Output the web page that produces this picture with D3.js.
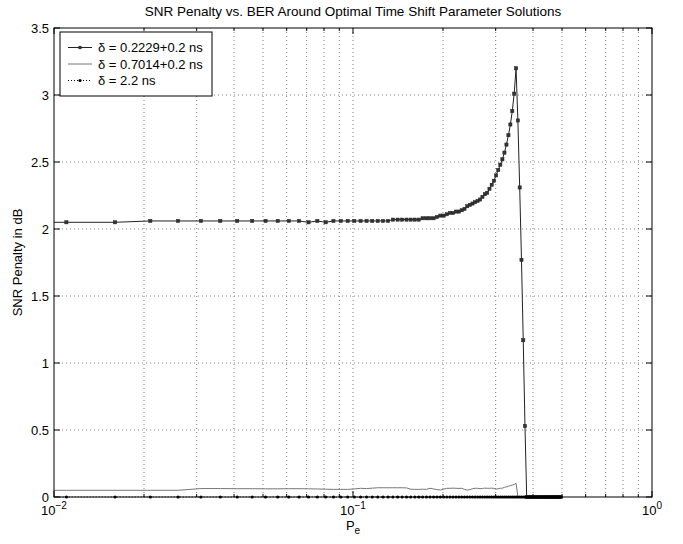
<!DOCTYPE html>
<html><head><meta charset="utf-8">
<script src="https://cdn.jsdelivr.net/npm/d3@7"></script>
<style>body{margin:0;background:#fff}svg{display:block;font-family:"Liberation Sans",Arial,sans-serif}</style>
</head><body><svg id="c" width="683" height="544"></svg>
<script>
const pe = [0.006,0.011,0.016,0.021,0.026,0.031,0.036,0.041,0.046,0.051,0.056,
0.061,0.066,0.071,0.076,0.081,0.086,0.091,0.096,0.101,0.106,
0.111,0.116,0.121,0.126,0.131,0.136,0.141,0.146,0.151,0.156,
0.161,0.166,0.171,0.176,0.181,0.186,0.191,0.196,0.201,0.206,
0.211,0.216,0.221,0.226,0.231,0.236,0.241,0.246,0.251,0.256,
0.261,0.266,0.271,0.276,0.281,0.286,0.291,0.296,0.301,0.306,
0.311,0.316,0.321,0.326,0.331,0.336,0.341,0.346,0.351,0.356,
0.361,0.366,0.371,0.376,0.381,0.386,0.391,0.396,0.401,0.406,
0.411,0.416,0.421,0.426,0.431,0.436,0.441,0.446,0.451,0.456,
0.461,0.466,0.471,0.476,0.481,0.486,0.491,0.496];
const s1 = [2.05,2.05,2.05,2.06,2.06,2.06,2.06,2.06,2.06,2.06,2.06,
2.06,2.06,2.05,2.06,2.05,2.06,2.06,2.06,2.06,2.06,
2.06,2.06,2.06,2.06,2.06,2.07,2.07,2.07,2.07,2.07,
2.07,2.07,2.08,2.08,2.08,2.08,2.09,2.10,2.10,2.11,
2.12,2.12,2.13,2.13,2.14,2.15,2.17,2.18,2.19,2.20,
2.21,2.22,2.24,2.26,2.27,2.30,2.33,2.36,2.40,2.44,
2.48,2.52,2.57,2.63,2.70,2.78,2.88,3.01,3.20,2.81,
2.31,1.77,1.17,0.53,0,0,0,0,0,0,
0,0,0,0,0,0,0,0,0,0,
0,0,0,0,0,0,0,0];
const s2 = [0.05,0.05,0.05,0.05,0.05,0.063,0.063,0.062,0.062,0.061,0.061,
0.062,0.062,0.061,0.06,0.058,0.057,0.057,0.057,0.06,0.065,
0.063,0.066,0.069,0.069,0.069,0.069,0.069,0.069,0.068,0.058,
0.057,0.057,0.058,0.057,0.065,0.06,0.055,0.052,0.058,0.065,
0.065,0.066,0.065,0.064,0.065,0.057,0.052,0.055,0.062,0.065,
0.065,0.062,0.064,0.066,0.065,0.065,0.066,0.064,0.058,0.062,
0.065,0.066,0.072,0.076,0.08,0.085,0.089,0.093,0.102,0,
0,0,0,0,0,0,0,0,0,0,
0,0,0,0,0,0,0,0,0,0,
0,0,0,0,0,0,0,0];
const s3 = [0,0,0,0,0,0,0,0,0,0,0,
0,0,0,0,0,0,0,0,0,0,
0,0,0,0,0,0,0,0,0,0,
0,0,0,0,0,0,0,0,0,0,
0,0,0,0,0,0,0,0,0,0,
0,0,0,0,0,0,0,0,0,0,
0,0,0,0,0,0,0,0,0,0,
0,0,0,0,0,0,0,0,0,0,
0,0,0,0,0,0,0,0,0,0,
0,0,0,0,0,0,0,0];
const seriesNames = ["\u03b4 = 0.2229+0.2 ns","\u03b4 = 0.7014+0.2 ns","\u03b4 = 2.2 ns"];
const yTicks = [0,0.5,1,1.5,2,2.5,3,3.5];
const yTickLabels = ["0","0.5","1","1.5","2","2.5","3","3.5"];
const xMajor = [0.01,0.1,1];
const xMajorExp = ["-2","-1","0"];
const title = "SNR Penalty vs. BER Around Optimal Time Shift Parameter Solutions";

const L=54, R=652, T=28, B=497, FS=13;
const svg = d3.select("#c");
const x = d3.scaleLog().domain([0.01,1]).range([L,R]);
const y = d3.scaleLinear().domain([0,3.5]).range([B,T]);
const xMinor = x.ticks().filter(v => !xMajor.some(m => Math.abs(m-v)<1e-9));

svg.append("defs").append("clipPath").attr("id","pc").append("rect")
  .attr("x",L).attr("y",T-4).attr("width",R-L).attr("height",B-T+8);

// grid
const g = svg.append("g").attr("stroke","#808080").attr("stroke-width",1).attr("stroke-dasharray","1,3");
x.ticks().forEach(v => { if (v>0.0101 && v<0.99) g.append("line").attr("x1",x(v)).attr("x2",x(v)).attr("y1",T).attr("y2",B); });
yTicks.forEach(v => { if (v>0 && v<3.5) g.append("line").attr("x1",L).attr("x2",R).attr("y1",y(v)).attr("y2",y(v)); });

// ticks
const tk = svg.append("g").attr("stroke","#000").attr("stroke-width",1);
xMajor.forEach(v => {
  tk.append("line").attr("x1",x(v)).attr("x2",x(v)).attr("y1",B).attr("y2",B-6);
  tk.append("line").attr("x1",x(v)).attr("x2",x(v)).attr("y1",T).attr("y2",T+6);
});
xMinor.forEach(v => {
  tk.append("line").attr("x1",x(v)).attr("x2",x(v)).attr("y1",B).attr("y2",B-3);
  tk.append("line").attr("x1",x(v)).attr("x2",x(v)).attr("y1",T).attr("y2",T+3);
});
yTicks.forEach(v => {
  tk.append("line").attr("x1",L).attr("x2",L+6).attr("y1",y(v)).attr("y2",y(v));
  tk.append("line").attr("x1",R).attr("x2",R-6).attr("y1",y(v)).attr("y2",y(v));
});

// series
const plot = svg.append("g").attr("clip-path","url(#pc)");
const idx = d3.range(pe.length);
const line = arr => d3.line().x(i => x(pe[i])).y(i => y(arr[i]))(idx);
plot.append("path").attr("d",line(s1)).attr("fill","none").attr("stroke","#222").attr("stroke-width",1);
plot.append("g").selectAll("rect").data(idx).join("rect")
  .attr("x",i=>x(pe[i])-1.6).attr("y",i=>y(s1[i])-1.6).attr("width",3.2).attr("height",3.2)
  .attr("fill","#333").attr("stroke","#222").attr("stroke-width",0.5);
plot.append("path").attr("d",line(s2)).attr("fill","none").attr("stroke","#777").attr("stroke-width",1);
plot.append("path").attr("d",line(s3)).attr("fill","none").attr("stroke","#000").attr("stroke-width",1).attr("stroke-dasharray","1,2");
plot.append("g").selectAll("circle").data(idx).join("circle")
  .attr("cx",i=>x(pe[i])).attr("cy",i=>y(s3[i])).attr("r",1.6).attr("fill","#000");

// box
svg.append("rect").attr("x",L).attr("y",T).attr("width",R-L).attr("height",B-T).attr("fill","none").attr("stroke","#000").attr("stroke-width",1);

// tick labels
yTicks.forEach((v,i) => svg.append("text").attr("x",L-5).attr("y",y(v)+4.5).attr("text-anchor","end").attr("font-size",FS).text(yTickLabels[i]));
xMajor.forEach((v,i) => {
  const t = svg.append("text").attr("x",x(v)).attr("y",B+18).attr("text-anchor","middle").attr("font-size",FS);
  t.append("tspan").text("10");
  t.append("tspan").attr("dy",-6).attr("font-size",10).text(xMajorExp[i].replace("-","\u2212"));
});
// axis labels
const xl = svg.append("text").attr("x",(L+R)/2).attr("y",B+33).attr("text-anchor","middle").attr("font-size",FS);
xl.append("tspan").text("P");
xl.append("tspan").attr("dy",4).attr("font-size",10).text("e");
svg.append("text").attr("transform",`translate(22,${(T+B)/2}) rotate(-90)`).attr("text-anchor","middle").attr("font-size",FS).text("SNR Penalty in dB");
svg.append("text").attr("x",(L+R)/2).attr("y",T-12).attr("text-anchor","middle").attr("font-size",13.5).text(title);

// legend
const lg = svg.append("g");
lg.append("rect").attr("x",60).attr("y",32).attr("width",152).attr("height",64).attr("fill","#fff").attr("stroke","#000").attr("stroke-width",1);
const rowsY = [47.5,64,80.5];
rowsY.forEach((ry,i) => {
  const ln = lg.append("line").attr("x1",68).attr("x2",92).attr("y1",ry).attr("y2",ry).attr("stroke-width",1);
  if (i===0) { ln.attr("stroke","#222"); lg.append("rect").attr("x",80-1.6).attr("y",ry-1.6).attr("width",3.2).attr("height",3.2).attr("fill","#333"); }
  if (i===1) { ln.attr("stroke","#777"); }
  if (i===2) { ln.attr("stroke","#000").attr("stroke-dasharray","1,2"); lg.append("circle").attr("cx",80).attr("cy",ry).attr("r",1.6).attr("fill","#000"); }
  lg.append("text").attr("x",98).attr("y",ry+4.5).attr("font-size",FS).text(seriesNames[i]);
});
</script></body></html>
